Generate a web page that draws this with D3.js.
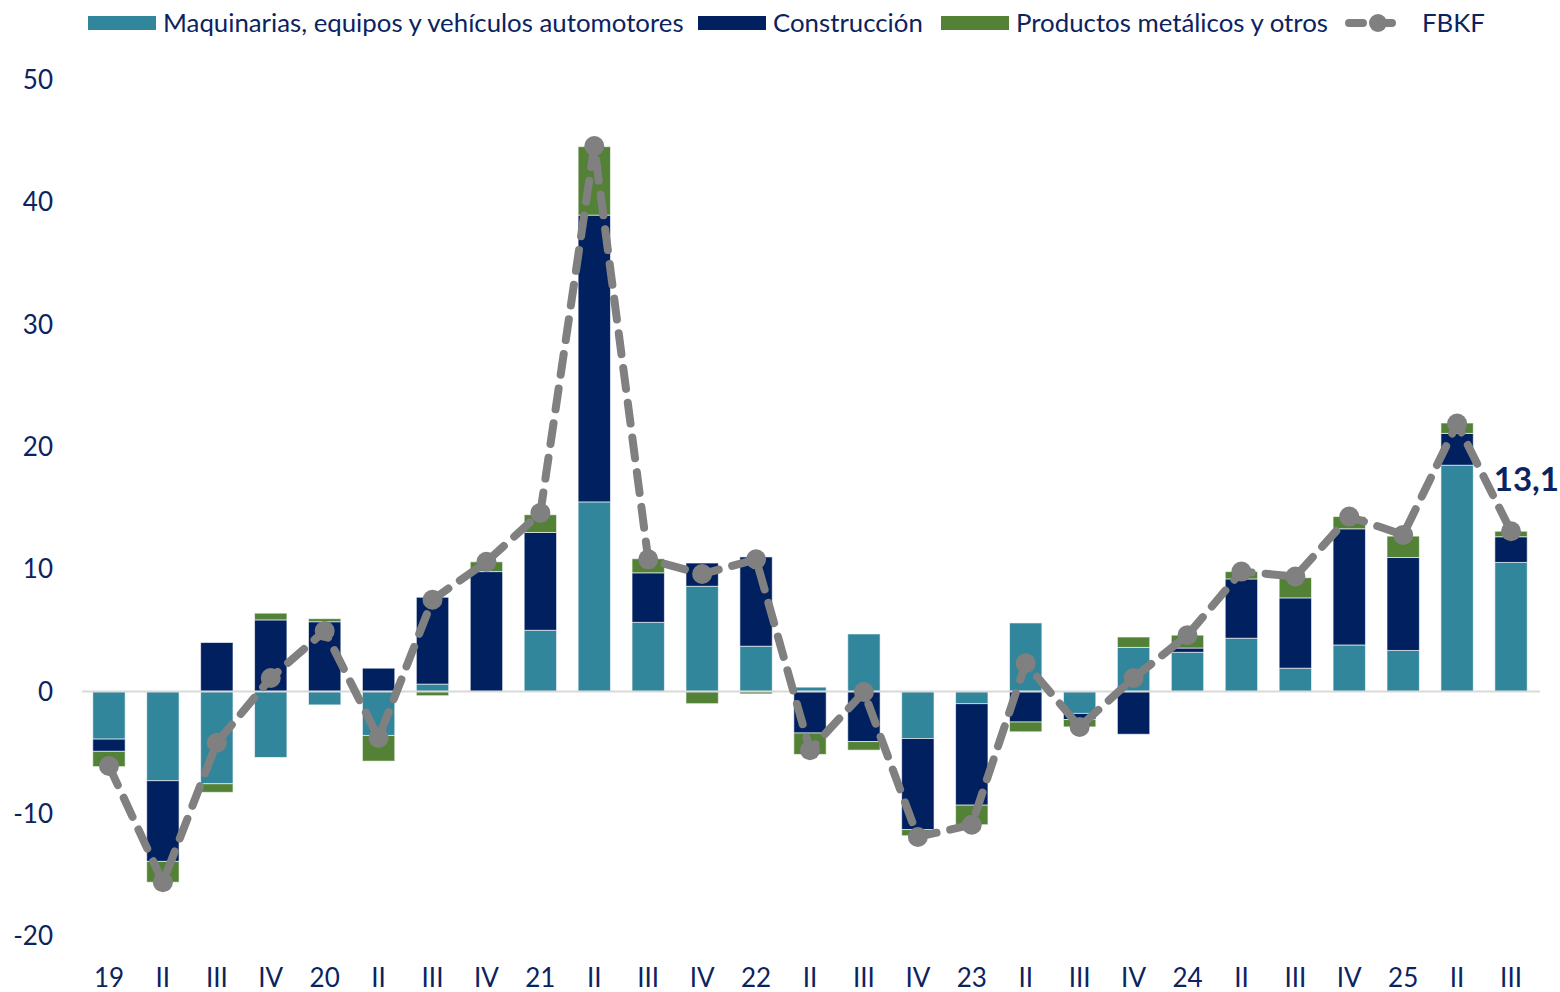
<!DOCTYPE html>
<html>
<head>
<meta charset="utf-8">
<script src="https://cdnjs.cloudflare.com/ajax/libs/d3/7.8.5/d3.min.js"></script>
<style>
  body { margin: 0; background: #fff; }
  text { font-family: Lato, "Open Sans", sans-serif; fill: #0b2360; }
  .zero { stroke: #d9d9d9; stroke-width: 2px; }
  .fbkf { fill: none; stroke: #808080; stroke-width: 8px; stroke-dasharray: 21 14; stroke-linecap: round; }
</style>
</head>
<body>
<svg id="chart" width="1560" height="992"></svg>
<script>
// quarters
var quarters = ["19","II","III","IV","20","II","III","IV","21","II","III","IV","22","II","III","IV",
                "23","II","III","IV","24","II","III","IV","25","II","III"];

// contributions (pp)
var maquinarias = [-3.9,-7.3,-7.55,-5.4,-1.1,-3.6,0.6,0.0,5.0,15.5,5.65,8.6,3.7,0.35,4.7,-3.85,
                   -1.0,5.6,-1.8,3.6,3.2,4.35,1.9,3.8,3.35,18.5,10.55];
var construccion = [-1.0,-6.6,4.0,5.85,5.7,1.9,7.1,9.8,8.0,23.45,4.05,1.9,7.3,-3.4,-4.1,-7.45,
                    -8.3,-2.5,-0.5,-3.5,0.35,4.85,5.75,9.5,7.6,2.6,2.1];
var productos = [-1.25,-1.7,-0.7,0.55,0.25,-2.1,-0.35,0.8,1.45,5.6,1.15,-1.0,-0.2,-1.75,-0.7,-0.5,
                 -1.6,-0.8,-0.6,0.85,1.05,0.6,1.65,1.0,1.75,0.85,0.45];
var fbkf = [-6.1,-15.6,-4.2,1.1,4.95,-3.8,7.5,10.6,14.6,44.6,10.8,9.6,10.8,-4.8,-0.05,-11.9,
            -10.9,2.3,-2.9,1.1,4.6,9.8,9.4,14.3,12.8,21.9,13.1];

var yTicks = [-20,-10,0,10,20,30,40,50];
var seriesNames = ["Maquinarias, equipos y vehículos automotores", "Construcción", "Productos metálicos y otros"];
var colors = ["#31869b", "#002060", "#538135"];

var svg = d3.select("#chart");

var rows = quarters.map(function(q, i) {
  return {i: i, q: q, m: maquinarias[i], c: construccion[i], p: productos[i]};
});

var x = d3.scaleBand().domain(d3.range(quarters.length)).range([82, 1538]).paddingInner(0.4).paddingOuter(0.2);
var y = d3.scaleLinear().domain([-20, 50]).range([936, 80]);

var stack = d3.stack().keys(["m", "c", "p"]).offset(d3.stackOffsetDiverging);
var layers = stack(rows);

// y labels
svg.append("g").selectAll("text")
  .data(yTicks)
  .enter().append("text")
  .attr("x", 53)
  .attr("y", function(d) { return y(d); })
  .attr("dy", "0.35em")
  .attr("text-anchor", "end")
  .style("font-size", "26px")
  .text(function(d) { return d; });

// bars
svg.append("g").selectAll("g")
  .data(layers)
  .enter().append("g")
  .attr("fill", function(d, i) { return colors[i]; })
  .selectAll("rect")
  .data(function(d) { return d; })
  .enter().append("rect")
  .attr("x", function(d) { return x(d.data.i); })
  .attr("width", x.bandwidth())
  .attr("y", function(d) { return y(Math.max(d[0], d[1])); })
  .attr("height", function(d) { return Math.abs(y(d[0]) - y(d[1])); })
  .attr("stroke", "#ffffff")
  .attr("stroke-opacity", 0.6)
  .attr("stroke-width", 1);

// zero line
svg.append("line")
  .attr("class", "zero")
  .attr("x1", 82).attr("x2", 1540)
  .attr("y1", y(0)).attr("y2", y(0));

// FBKF line
var line = d3.line()
  .x(function(d, i) { return x(i) + x.bandwidth() / 2; })
  .y(function(d) { return y(d); });

svg.append("path")
  .attr("class", "fbkf")
  .attr("d", line(fbkf));

svg.append("g").selectAll("circle")
  .data(fbkf)
  .enter().append("circle")
  .attr("cx", function(d, i) { return x(i) + x.bandwidth() / 2; })
  .attr("cy", function(d) { return y(d); })
  .attr("r", 10)
  .attr("fill", "#808080");

// last value label
var last = fbkf.length - 1;
svg.append("text")
  .attr("x", x(last) - 1)
  .attr("y", y(fbkf[last]) - 52)
  .attr("dy", "0.35em")
  .style("font-size", "33px")
  .style("font-weight", "bold")
  .text(String(fbkf[last]).replace(".", ","));

// x labels
svg.append("g").selectAll("text")
  .data(quarters)
  .enter().append("text")
  .attr("x", function(d, i) { return x(i) + x.bandwidth() / 2; })
  .attr("y", 978)
  .attr("dy", "0.35em")
  .attr("text-anchor", "middle")
  .style("font-size", "26px")
  .text(function(d) { return d; });

// legend
var legendPos = [88, 698, 941];
var legend = svg.append("g");
seriesNames.forEach(function(name, i) {
  legend.append("rect")
    .attr("x", legendPos[i]).attr("y", 16)
    .attr("width", 68).attr("height", 14)
    .attr("fill", colors[i]);
  legend.append("text")
    .attr("x", legendPos[i] + 75).attr("y", 23)
    .attr("dy", "0.35em")
    .style("font-size", "25.8px")
    .text(name);
});
legend.append("line")
  .attr("x1", 1349).attr("x2", 1406)
  .attr("y1", 23).attr("y2", 23)
  .attr("stroke", "#808080")
  .attr("stroke-width", 8)
  .attr("stroke-linecap", "round")
  .attr("stroke-dasharray", "14 15");
legend.append("circle")
  .attr("cx", 1378).attr("cy", 23).attr("r", 9)
  .attr("fill", "#808080");
legend.append("text")
  .attr("x", 1422).attr("y", 23)
  .attr("dy", "0.35em")
  .style("font-size", "25.8px")
  .text("FBKF");
</script>
</body>
</html>
